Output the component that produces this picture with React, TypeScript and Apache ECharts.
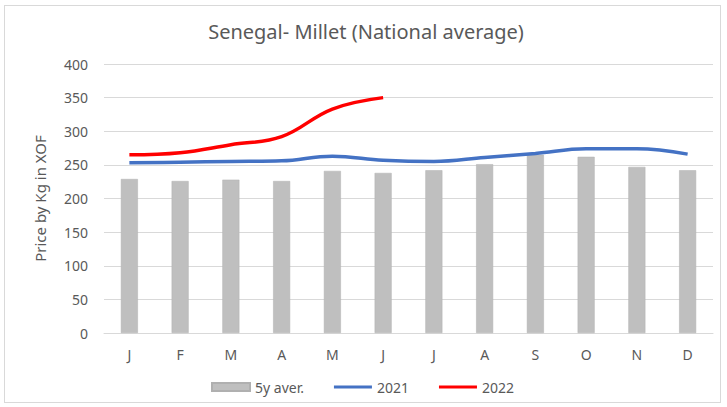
import React, { useEffect, useRef } from "react";
import * as echarts from "echarts";

const months = ["J", "F", "M", "A", "M", "J", "J", "A", "S", "O", "N", "D"];
const avg5y = [229, 226, 228, 226, 241, 238, 242, 251, 265, 262, 247, 242];
const y2021 = [253, 254, 255, 256, 263, 257, 255, 261, 267, 274, 274, 266];
const y2022 = [265, 268, 280, 292, 333, 350];
const yTicks = { min: 0, max: 400, interval: 50 };

const FONT = "'Noto Sans', 'Open Sans', sans-serif";
const TXT = "#595959";

export default function App() {
  const ref = useRef<HTMLDivElement>(null);
  useEffect(() => {
    document.body.style.margin = "0";
    const chart = echarts.init(ref.current!, undefined, { renderer: "svg" });
    chart.setOption({
      animation: false,
      backgroundColor: "#ffffff",
      textStyle: { fontFamily: FONT, color: TXT },
      title: {
        text: "Senegal- Millet (National average)",
        left: 356,
        textAlign: "center",
        top: 10,
        textStyle: { fontSize: 20, fontWeight: "normal", color: TXT, fontFamily: FONT },
      },
      grid: { left: 99, right: 7, top: 58, bottom: 69 },
      legend: {
        bottom: 3,
        left: "center",
        itemWidth: 38,
        itemHeight: 8,
        itemGap: 30,
        textStyle: { fontSize: 14, color: TXT, fontFamily: FONT },
        data: [
          { name: "5y aver.", icon: "rect" },
          { name: "2021", icon: "path://M0,0H40V3H0Z" },
          { name: "2022", icon: "path://M0,0H40V3H0Z" },
        ],
      },
      xAxis: {
        type: "category",
        data: months,
        axisLine: { lineStyle: { color: "#d9d9d9" } },
        axisTick: { show: false },
        axisLabel: { color: TXT, fontSize: 14, margin: 14, fontFamily: FONT },
      },
      yAxis: {
        type: "value",
        min: yTicks.min,
        max: yTicks.max,
        interval: yTicks.interval,
        name: "Price by Kg in XOF",
        nameLocation: "middle",
        nameGap: 57,
        nameRotate: 90,
        nameTextStyle: { fontSize: 15, color: TXT, fontFamily: FONT },
        axisLine: { show: false },
        axisTick: { show: false },
        axisLabel: { color: TXT, fontSize: 14, margin: 16, fontFamily: FONT },
        splitLine: { lineStyle: { color: "#d9d9d9", width: 1 } },
      },
      series: [
        {
          name: "5y aver.",
          type: "bar",
          data: avg5y,
          barWidth: 17,
          itemStyle: { color: "#bfbfbf", borderColor: "#b0b0b0", borderWidth: 0.5 },
        },
        {
          name: "2021",
          type: "line",
          data: y2021,
          smooth: 0.4,
          symbol: "none",
          lineStyle: { color: "#4472c4", width: 3.5 },
          itemStyle: { color: "#4472c4" },
        },
        {
          name: "2022",
          type: "line",
          data: y2022,
          smooth: 0.4,
          symbol: "none",
          lineStyle: { color: "#ff0000", width: 3.5 },
          itemStyle: { color: "#ff0000" },
        },
      ],
    });
    return () => chart.dispose();
  }, []);
  return (
    <div
      style={{
        position: "fixed",
        left: 0,
        top: 0,
        width: 727,
        height: 407,
        background: "#fff",
      }}
    >
      <div
        ref={ref}
        style={{
          position: "absolute",
          left: 4,
          top: 5,
          width: 717,
          height: 398,
          border: "1px solid #d9d9d9",
          boxSizing: "border-box",
        }}
      />
    </div>
  );
}
